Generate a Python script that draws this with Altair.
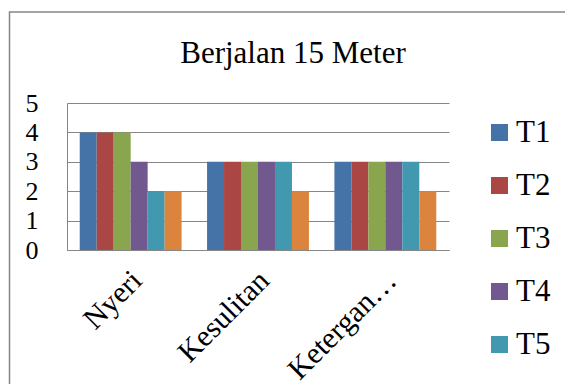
import altair as alt
import pandas as pd

categories = ["Nyeri", "Kesulitan", "Ketergan…"]
series = ["T1", "T2", "T3", "T4", "T5", "T6"]
values_T1 = [4, 3, 3]
values_T2 = [4, 3, 3]
values_T3 = [4, 3, 3]
values_T4 = [3, 3, 3]
values_T5 = [2, 3, 3]
values_T6 = [2, 2, 2]
colors = ["#4572A7", "#AA4643", "#89A54E", "#71588F", "#4198AF", "#DB843D"]
legend_shown = ["T1", "T2", "T3", "T4", "T5"]
y_ticks = [0, 1, 2, 3, 4, 5]
chart_title = "Berjalan 15 Meter"

series_values = [values_T1, values_T2, values_T3, values_T4, values_T5, values_T6]
rows = []
for s, vals in zip(series, series_values):
    for c, v in zip(categories, vals):
        rows.append({"kategori": c, "seri": s, "nilai": v})
df = pd.DataFrame(rows)

FONT = "Liberation Serif"
GRAY = "#868686"
W, H = 382, 147

bars = alt.Chart(df).mark_bar(strokeWidth=0).encode(
    x=alt.X("kategori:N", sort=categories,
            scale=alt.Scale(paddingInner=0.2, paddingOuter=0.1),
            axis=alt.Axis(title=None, labelAngle=-45, labelFont=FONT, labelFontSize=30,
                          labelColor="black", ticks=False, domainColor=GRAY, domainWidth=1,
                          labelPadding=15, labelOffset=-4)),
    xOffset=alt.XOffset("seri:N", sort=series, scale=alt.Scale(paddingInner=0, paddingOuter=0)),
    y=alt.Y("nilai:Q", scale=alt.Scale(domain=[0, 5], nice=False),
            axis=alt.Axis(title=None, values=y_ticks, grid=True, gridColor=GRAY, gridWidth=1,
                          domainColor=GRAY, domainWidth=1, ticks=False, labelPadding=29,
                          labelFont=FONT, labelFontSize=26, labelColor="black")),
    color=alt.Color("seri:N", sort=series, scale=alt.Scale(domain=series, range=colors),
                    legend=alt.Legend(title=None, orient="none", legendX=417, legendY=14,
                                      values=legend_shown,
                                      symbolType="square", symbolSize=289, symbolStrokeWidth=0,
                                      labelFont=FONT, labelFontSize=31, labelColor="black",
                                      labelOffset=1, rowPadding=21, padding=0,
                                      direction="vertical")),
)

border = alt.Chart(alt.Data(values=[{}])).mark_rect(
    filled=False, stroke=GRAY, strokeWidth=1.5
).encode(
    x=alt.value(-57.5), x2=alt.value(700), y=alt.value(-91), y2=alt.value(500)
)

title_text = alt.Chart(alt.Data(values=[{"t": chart_title}])).mark_text(
    font=FONT, fontSize=31, align="center", baseline="alphabetic", color="black"
).encode(text="t:N", x=alt.value(226), y=alt.value(-40))

chart = alt.layer(border, bars, title_text).properties(
    width=W, height=H,
    autosize=alt.AutoSizeParams(type="none"),
    padding={"left": 59, "top": 95, "right": 116, "bottom": 134},
).configure_view(stroke=None)

chart.save("out.html", embed_options={"renderer": "svg", "actions": False})
